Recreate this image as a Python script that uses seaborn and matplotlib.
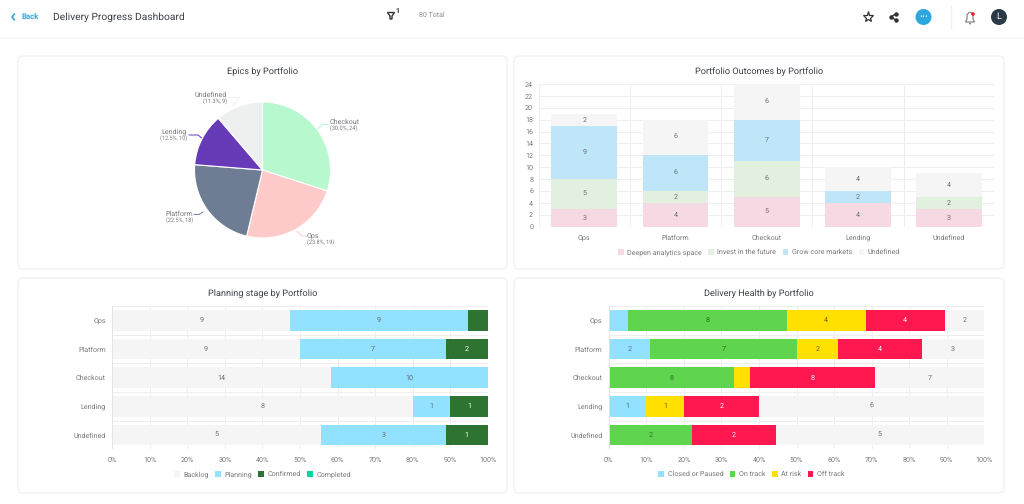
import matplotlib
matplotlib.use("Agg")
import matplotlib.pyplot as plt
from matplotlib.patches import FancyBboxPatch, Circle, Polygon
import seaborn as sns
import pandas as pd

# ---- data ----
portfolios = ["Ops", "Platform", "Checkout", "Lending", "Undefined"]

pie_names = ["Checkout", "Ops", "Platform", "Lending", "Undefined"]
pie_counts = [24, 19, 18, 10, 9]
pie_pcts = ["30.0%", "23.8%", "22.5%", "12.5%", "11.3%"]

outcome_series = ["Deepen analytics space", "Invest in the future", "Grow core markets", "Undefined"]
deepen = [3, 4, 5, 4, 3]
invest = [5, 2, 6, 0, 2]
grow = [9, 6, 7, 2, 0]
outcome_undefined = [2, 6, 6, 4, 4]

planning_series = ["Backlog", "Planning", "Confirmed", "Completed"]
backlog = [9, 9, 14, 8, 5]
planning = [9, 7, 10, 1, 3]
confirmed = [1, 2, 0, 1, 1]
completed = [0, 0, 0, 0, 0]

health_series = ["Closed or Paused", "On track", "At risk", "Off track", "None"]
closed = [1, 2, 0, 1, 0]
on_track = [8, 7, 8, 0, 2]
at_risk = [4, 2, 1, 1, 0]
off_track = [4, 4, 8, 2, 2]
no_health = [2, 3, 7, 6, 5]

# ---- style ----
sns.set_theme(style="white")
plt.rcParams["font.family"] = ["Roboto", "DejaVu Sans"]
plt.rcParams["text.hinting"] = "no_hinting"
W, H = 1024, 504
fig = plt.figure(figsize=(W / 100, H / 100), dpi=100, facecolor="white")
TXT, TICK, GRID = "#3c4047", "#77797d", "#eeeeee"
FS = 5.1

bg = fig.add_axes([0, 0, 1, 1], zorder=0)
bg.set_xlim(0, W); bg.set_ylim(H, 0); bg.axis("off")

def pos(x0, y0, x1, y1):
    return [x0 / W, 1 - y1 / H, (x1 - x0) / W, (y1 - y0) / H]

def card(x0, y0, x1, y1, title):
    bg.add_patch(FancyBboxPatch((x0 + 4, y0 + 4), x1 - x0 - 8, y1 - y0 - 8,
                                boxstyle="round,pad=4,rounding_size=5",
                                fc="white", ec="#f0f1f2", lw=1))
    bg.text((x0 + x1) / 2, y0 + 16, title, ha="center", va="center", fontsize=6.6, color=TXT)

card(18, 56, 507, 269, "Epics by Portfolio")
card(514, 56, 1004, 269, "Portfolio Outcomes by Portfolio")
card(18, 278, 507, 493, "Planning stage by Portfolio")
card(514, 278, 1004, 493, "Delivery Health by Portfolio")

# ---- header ----
bg.plot([0, W], [37.5, 37.5], color="#f2f3f4", lw=1)
bg.plot([14.5, 12, 14.5], [14, 17, 20], color="#35a7dc", lw=1.2)
bg.text(21, 17, "Back", color="#35a7dc", fontsize=5.6, fontweight="bold", va="center")
bg.text(53, 17, "Delivery Progress Dashboard", color=TXT, fontsize=7.4, va="center")
bg.add_patch(Polygon([(387.5, 12.5), (394.5, 12.5), (392, 16), (392, 19), (390, 19), (390, 16)],
                     fc="white", ec="#333333", lw=1))
bg.text(397.5, 11, "1", color="#333333", fontsize=5, ha="center", va="center", fontweight="bold")
bg.text(419, 15, "80 Total", color="#8a8c90", fontsize=5.0, va="center")
bg.plot([868], [17], marker="*", ms=8, mfc="white", mec="#333333", mew=0.9)
bg.plot([895.5, 891, 895.5], [14, 17, 20], color="#333333", lw=1, marker="o", ms=2.2)
bg.add_patch(Circle((923.5, 17), 8, fc="#2ea7e0", ec="none"))
bg.text(923.5, 16.5, "\u2022\u2022\u2022", color="white", fontsize=3.6, ha="center", va="center", family="DejaVu Sans")
bg.plot([951, 951], [6, 28], color="#eef0f1", lw=1)
bg.add_patch(Polygon([(965.5, 22), (967, 19), (967, 15), (969, 12.5), (971, 12.5), (973, 15), (973, 19), (974.5, 22)],
                     closed=True, fc="white", ec="#888888", lw=0.9))
bg.add_patch(Circle((970, 23.5), 1, fc="#888888", ec="none"))
bg.add_patch(Circle((973, 14), 1.8, fc="#f01e2c", ec="none", zorder=5))
bg.add_patch(Circle((999, 17), 8, fc="#2c3a47", ec="none"))
bg.text(999, 17, "L", color="white", fontsize=6.5, ha="center", va="center")

# ---- pie ----
R = 68
pie_ax = fig.add_axes(pos(262.5 - R * 1.25, 170 - R * 1.25, 262.5 + R * 1.25, 170 + R * 1.25), zorder=1)
pie_colors = ["#b7f8ce", "#ffcaca", "#6e7d93", "#673ab7", "#eef0f0"]
pie_ax.pie(pie_counts, colors=pie_colors, startangle=90, counterclock=False, radius=1,
           wedgeprops=dict(edgecolor="white", linewidth=0.8))
pie_ax.set_xlim(-1.25, 1.25); pie_ax.set_ylim(-1.25, 1.25)

callouts = [  # line path, text x, align, name y
    ([(317, 130), (322, 124.5), (329, 124.5)], 330, "left", 122),
    ([(297, 231), (302, 236), (306, 236)], 307, "left", 236),
    ([(203, 212), (199, 214.5), (194, 214.5)], 193, "right", 214),
    ([(203, 139), (198, 135), (189, 135)], 187, "right", 132),
    ([(233, 106), (239, 97.5), (228, 97.5)], 227, "right", 95),
]
for (path, tx, ha, ty), nm, ct, pc, col in zip(callouts, pie_names, pie_counts, pie_pcts, pie_colors):
    bg.plot([p[0] for p in path], [p[1] for p in path], color=col, lw=0.7)
    bg.text(tx, ty, nm, ha=ha, va="center", fontsize=FS, color=TICK)
    bg.text(tx, ty + 7, f"({pc}, {ct})", ha=ha, va="center", fontsize=4.0, color=TICK)

# ---- stacked bars ----
def finish_ticks(ax):
    ax.tick_params(axis="both", which="both", length=0, labelsize=FS, labelcolor=TICK)
    for s in ax.spines.values():
        s.set_visible(False)
    ax.set_xlabel(""); ax.set_ylabel("")
    ax.set_axisbelow(True)

def legend(ax, anchor, spacing):
    ax.legend(loc="center", bbox_to_anchor=anchor, ncol=5, frameon=False, fontsize=FS,
              labelcolor=TICK, handlelength=0.8, handleheight=0.8, handletextpad=0.5,
              columnspacing=spacing, borderpad=0, borderaxespad=0)

# vertical stacked chart
oax = fig.add_axes(pos(538.7, 84, 994.7, 226.7), zorder=1)
frame = pd.DataFrame(dict(portfolio=portfolios, a=deepen, b=invest, c=grow, d=outcome_undefined))
base = [0] * 5
for col, name, color in zip("abcd", outcome_series, ["#f7d9e3", "#e2f0df", "#bee6f8", "#f5f5f5"]):
    sns.barplot(data=frame, x="portfolio", y=col, color=color, saturation=1, width=0.72,
                bottom=base, label=name, ax=oax, linewidth=0, errorbar=None)
    vals = frame[col].tolist()
    oax.bar_label(oax.containers[-1], labels=[str(v) if v else "" for v in vals],
                  label_type="center", fontsize=FS, color="#6d6f73")
    base = [a + b for a, b in zip(base, vals)]
oax.set_ylim(0, 24); oax.set_xlim(-0.5, 4.5)
oax.set_yticks(range(0, 25, 2))
oax.set_xticks([i + 0.5 for i in range(-1, 5)], minor=True)
oax.grid(axis="y", color=GRID, lw=0.7)
oax.grid(axis="x", which="minor", color=GRID, lw=0.7)
finish_ticks(oax)
oax.tick_params(axis="x", which="major", pad=9.2)
for lab in oax.get_xticklabels():
    lab.set_verticalalignment("baseline")
oax.tick_params(axis="y", pad=4)
legend(oax, (0.483, -0.18), 0.9)

def hbars(rect, series, names, colors, label_colors, anchor, spacing):
    ax = fig.add_axes(pos(*rect), zorder=1)
    totals = [sum(r) for r in zip(*series)]
    left = [0] * 5
    for vals, name, color, lc in zip(series, names, colors, label_colors):
        share = [100 * v / t for v, t in zip(vals, totals)]
        frm = pd.DataFrame(dict(portfolio=portfolios, share=share))
        kw = {} if name == "None" else {"label": name}
        sns.barplot(data=frm, x="share", y="portfolio", orient="y", color=color, saturation=1,
                    width=0.72, left=left, ax=ax, linewidth=0, errorbar=None, **kw)
        ax.bar_label(ax.containers[-1],
                     labels=[str(v) if s >= 6 else "" for v, s in zip(vals, share)],
                     label_type="center", fontsize=FS, color=lc)
        left = [a + b for a, b in zip(left, share)]
    ax.set_xlim(0, 100); ax.set_ylim(4.5, -0.5)
    ax.set_xticks(range(0, 101, 10))
    ax.set_xticklabels([f"{v}%" for v in range(0, 101, 10)])
    ax.set_yticks([i + 0.5 for i in range(-1, 5)], minor=True)
    ax.grid(axis="x", color=GRID, lw=0.7)
    ax.grid(axis="y", which="minor", color=GRID, lw=0.7)
    finish_ticks(ax)
    ax.tick_params(axis="y", which="major", pad=4.5)
    ax.tick_params(axis="x", pad=5.5)
    ax.axvline(0, color="#e4e4e4", lw=0.7)
    legend(ax, anchor, spacing)
    return ax

hbars((112.3, 306, 487.7, 449.3), [backlog, planning, confirmed, completed], planning_series,
      ["#f5f5f5", "#92e1ff", "#2e7332", "#00d9a0"], ["#6d6f73", "#5f6b70", "white", "white"],
      (0.4, -0.175), 0.9)
hbars((608.7, 306, 984.3, 449.3), [closed, on_track, at_risk, off_track, no_health], health_series,
      ["#92e1ff", "#5fd44f", "#ffe000", "#ff174f", "#f5f5f5"],
      ["#5f6b70", "#2f6b28", "#6b6000", "white", "#6d6f73"], (0.38, -0.175), 0.9)

fig.savefig("out.png", dpi=100, facecolor="white")
